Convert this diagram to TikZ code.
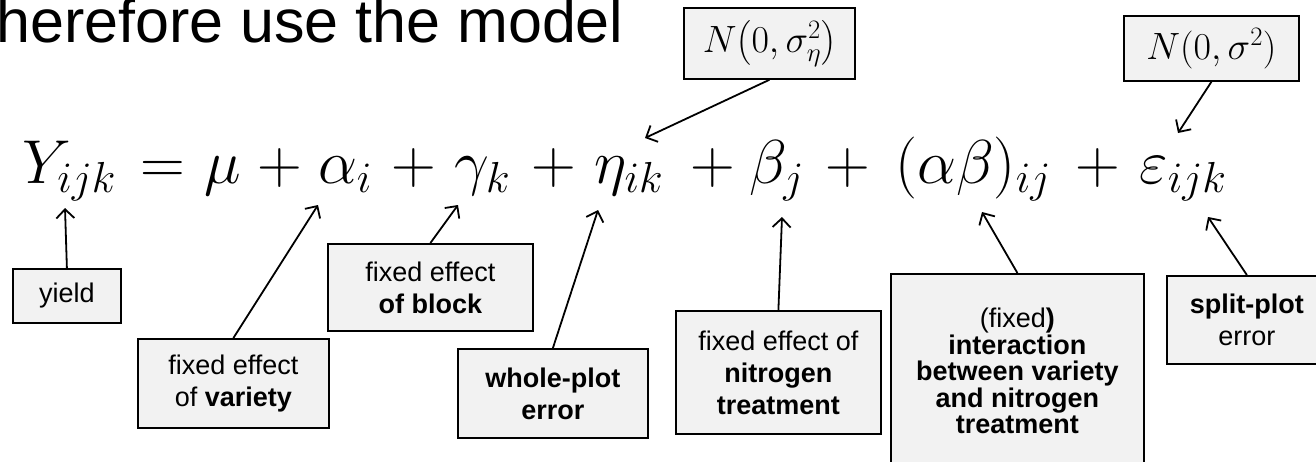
\documentclass[tikz,border=0pt]{standalone}
\usepackage{fix-cm}
\usepackage{amsmath}
\usepackage{fontspec}
\setmainfont{Liberation Sans}
\usetikzlibrary{arrows.meta}
\definecolor{boxfill}{RGB}{242,242,242}
\begin{document}
\begin{tikzpicture}[x=1pt,y=-1pt,
  lbl/.style={draw=black, line width=1.8pt, fill=boxfill, inner sep=0pt, anchor=north west, align=center, font=\fontsize{27}{32}\selectfont},
  nbox/.style={lbl, font=\fontsize{38}{44}\selectfont},
  term/.style={anchor=base, inner sep=0pt, font=\fontsize{62}{70}\selectfont},
  arr/.style={line width=1.8pt, -{Straight Barb[length=9pt,width=18pt,line width=1.8pt]}}
]
\useasboundingbox (0,0) rectangle (1316,461);
\clip (0,0) rectangle (1316,461);

% title
\node[anchor=base west, inner sep=0pt, font=\fontsize{61}{70}\selectfont] (title) at (-4,42) {herefore use the model};

% equation
\node[term] (Y) at (69,183) {$Y_{ijk}$};
\node[term] (eq) at (162.5,183) {$=$};
\node[term] (mu) at (222.5,183) {$\mu$};
\node[term] (p1) at (280,183) {$+$};
\node[term] (alpha) at (345,183) {$\alpha_i$};
\node[term] (p2) at (413.5,183) {$+$};
\node[term] (gamma) at (482.5,183) {$\gamma_k$};
\node[term] (p3) at (554,183) {$+$};
\node[term] (eta) at (629,183) {$\eta_{ik}$};
\node[term] (p4) at (712.5,183) {$+$};
\node[term] (beta) at (776.5,183) {$\beta_j$};
\node[term] (p5) at (847.5,183) {$+$};
\node[term] (ab) at (973,183) {$(\alpha\beta)_{ij}$};
\node[term] (p6) at (1097.5,183) {$+$};
\node[term] (eps) at (1183,183) {$\varepsilon_{ijk}$};

% distribution boxes
\node[nbox, minimum width=171pt, minimum height=71pt] (Neta) at (683,7) {$N\bigl(0,\sigma_\eta^2\bigr)$};
\node[nbox, minimum width=175pt, minimum height=65pt] (Nsig) at (1123,15) {$N(0,\sigma^2)$};

% label boxes
\node[lbl, minimum width=108pt, minimum height=54pt] (yield) at (12,268) {yield};
\node[lbl, minimum width=191pt, minimum height=89pt] (variety) at (137,338) {fixed effect\\of \textbf{variety}};
\node[lbl, minimum width=205pt, minimum height=87pt] (block) at (327,243) {fixed effect\\\textbf{of block}};
\node[lbl, minimum width=190pt, minimum height=89pt] (whole) at (457,348) {\textbf{whole-plot}\\\textbf{error}};
\node[lbl, minimum width=205pt, minimum height=123pt] (nitro) at (675,310) {fixed effect of\\\textbf{nitrogen}\\\textbf{treatment}};
\node[lbl, minimum width=253pt, minimum height=194pt, font=\fontsize{27}{26.5}\selectfont] (inter) at (890,273) {(fixed\textbf{)}\\\textbf{interaction}\\\textbf{between variety}\\\textbf{and nitrogen}\\\textbf{treatment}};
\node[lbl, minimum width=160pt, minimum height=88pt] (split) at (1166,275) {\textbf{split-plot}\\error};

% arrow tips
\coordinate (tY) at (65,208);
\coordinate (tA) at (318,205);
\coordinate (tG) at (458,205);
\coordinate (tE) at (598,210);
\coordinate (tB) at (782,217);
\coordinate (tAB) at (982,212);
\coordinate (tS) at (1208,217);
\coordinate (tNeta) at (645,138);
\coordinate (tNsig) at (1178,133);

\draw[arr] (yield.north) -- (tY);
\draw[arr] (variety.north) -- (tA);
\draw[arr] (block.north) -- (tG);
\draw[arr] (whole.north) -- (tE);
\draw[arr] (nitro.north) -- (tB);
\draw[arr] (inter.north) -- (tAB);
\draw[arr] (split.north) -- (tS);
\draw[arr] (Neta.south) -- (tNeta);
\draw[arr] (Nsig.south) -- (tNsig);
\end{tikzpicture}
\end{document}
